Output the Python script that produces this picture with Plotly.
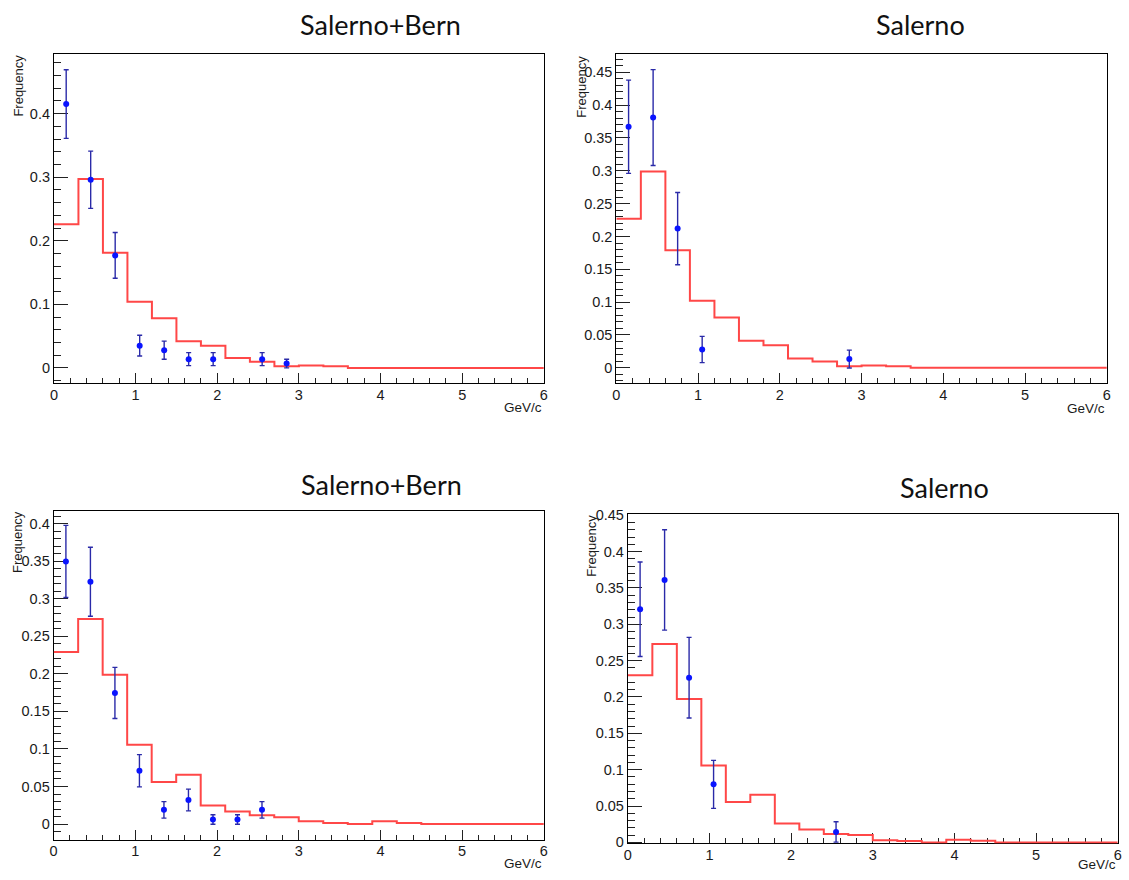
import plotly.graph_objects as go

# ---------------------------------------------------------------------------
# Momentum spectra: simulated histogram (red) against measured points (blue)
# ---------------------------------------------------------------------------
W, H = 1129, 880

# lower edges of the 0.3 GeV/c bins and the upper edge of the last bin
bin_low = [0.0, 0.3, 0.6, 0.9, 1.2, 1.5, 1.8, 2.1, 2.4, 2.7,
           3.0, 3.3, 3.6, 3.9, 4.2, 4.5, 4.8, 5.1, 5.4, 5.7]
bin_high_last = 6.0

# top-left: Salerno+Bern
sb1_hist = [0.226, 0.297, 0.181, 0.104, 0.078, 0.042, 0.035, 0.0155, 0.0095, 0.0027,
            0.0037, 0.0027, 0.0, 0.0, 0.0, 0.0, 0.0, 0.0, 0.0, 0.0]
sb1_x = [0.15, 0.45, 0.75, 1.05, 1.35, 1.65, 1.95, 2.55, 2.85]
sb1_y = [0.415, 0.296, 0.177, 0.035, 0.0278, 0.0138, 0.0138, 0.0138, 0.0068]
sb1_err = [0.054, 0.045, 0.036, 0.0163, 0.0143, 0.0102, 0.0102, 0.0102, 0.0068]

# top-right: Salerno
sa1_hist = [0.227, 0.299, 0.179, 0.102, 0.0766, 0.0413, 0.0343, 0.0144, 0.0095, 0.0025,
            0.0035, 0.0025, 0.0, 0.0, 0.0, 0.0, 0.0, 0.0, 0.0, 0.0]
sa1_x = [0.15, 0.45, 0.75, 1.05, 2.85]
sa1_y = [0.367, 0.381, 0.212, 0.0279, 0.0134]
sa1_err = [0.071, 0.073, 0.055, 0.020, 0.0136]

# bottom-left: Salerno+Bern
sb2_hist = [0.229, 0.273, 0.1987, 0.1057, 0.0561, 0.0658, 0.0246, 0.0167, 0.0118, 0.0092,
            0.0039, 0.0013, 0.0, 0.0039, 0.0013, 0.0, 0.0, 0.0, 0.0, 0.0]
sb2_x = [0.15, 0.45, 0.75, 1.05, 1.35, 1.65, 1.95, 2.25, 2.55]
sb2_y = [0.3497, 0.3226, 0.1746, 0.071, 0.0189, 0.032, 0.0061, 0.0061, 0.0189]
sb2_err = [0.048, 0.046, 0.034, 0.0215, 0.011, 0.0145, 0.0063, 0.0063, 0.011]

# bottom-right: Salerno
sa2_hist = [0.2299, 0.273, 0.1973, 0.1058, 0.0556, 0.0655, 0.026, 0.0179, 0.0117, 0.0103,
            0.0031, 0.0018, 0.0, 0.0036, 0.0022, 0.0, 0.0, 0.0, 0.0, 0.0]
sa2_x = [0.15, 0.45, 0.75, 1.05, 2.55]
sa2_y = [0.3206, 0.361, 0.2265, 0.0798, 0.0143]
sa2_err = [0.065, 0.069, 0.0555, 0.033, 0.014]

titles = ["Salerno+Bern", "Salerno", "Salerno+Bern", "Salerno"]
y_title = "Frequency"
x_title = "GeV/c"

# frame boxes in pixels: (left, right, top, bottom)
frames = [(50.3, 543.7, 48.0, 382.3),
          (616.7, 1110.7, 48.0, 382.5),
          (50.0, 543.7, 512.3, 846.0),
          (628.3, 1121.7, 515.7, 850.0)]
y_ranges = [(-0.0241, 0.4934), (-0.0237, 0.4774), (-0.0206, 0.4166), (-0.0015, 0.451)]
y_major = [0.1, 0.05, 0.05, 0.05]
y_minor = [0.02, 0.01, 0.01, 0.01]
title_pos = [(379.5, 18.0), (923.5, 18.0), (380.5, 485.0), (947.0, 488.5)]
xlabel_gap = [24.4, 25.5, 24.0, 21.7]
ylabel_mid = [(15.0, 80.0), (581.7, 81.5), (14.3, 543.5), (591.7, 548.0)]

panels = [
    (sb1_hist, sb1_x, sb1_y, sb1_err),
    (sa1_hist, sa1_x, sa1_y, sa1_err),
    (sb2_hist, sb2_x, sb2_y, sb2_err),
    (sa2_hist, sa2_x, sa2_y, sa2_err),
]

RED = "#ff4747"
BLUE = "#0a14ff"
ERR = "#2a2aa8"
SANS = "Liberation Sans, Arial, sans-serif"
TICK_FONT = dict(family=SANS, size=14.5, color="#1a1a1a")


def px_x(v):
    return v / W


def px_y(v):
    return 1 - v / H


fig = go.Figure()
layout = {}
annotations = []

for i, (hist, px, py, perr) in enumerate(panels):
    n = "" if i == 0 else str(i + 1)
    xa, ya = "x" + n, "y" + n
    left, right, top, bottom = frames[i]

    # step outline of the histogram
    fig.add_trace(go.Scatter(
        x=bin_low + [bin_high_last], y=hist + [hist[-1]],
        mode="lines", line=dict(color=RED, width=2, shape="hv"),
        xaxis=xa, yaxis=ya, showlegend=False, hoverinfo="skip"))

    # measured points with statistical errors
    fig.add_trace(go.Scatter(
        x=px, y=py, mode="markers",
        marker=dict(color=BLUE, size=6),
        error_y=dict(type="data", array=perr, visible=True,
                     color=ERR, thickness=1.4, width=2.5),
        xaxis=xa, yaxis=ya, showlegend=False, cliponaxis=False))

    layout["xaxis" + n] = dict(
        domain=[px_x(left), px_x(right)], anchor=ya, range=[0, 6],
        showline=True, linecolor="black", linewidth=1, mirror=True,
        showgrid=False, zeroline=False,
        ticks="inside", ticklen=10, tickwidth=1, tickcolor="#222",
        tick0=0, dtick=1, tickfont=TICK_FONT, ticklabelstandoff=-2,
        minor=dict(ticks="inside", ticklen=5, tickwidth=1, tickcolor="#222",
                   tick0=0, dtick=0.2, showgrid=False),
        layer="below traces")
    layout["yaxis" + n] = dict(
        domain=[px_y(bottom), px_y(top)], anchor=xa, range=list(y_ranges[i]),
        showline=True, linecolor="black", linewidth=1, mirror=True,
        showgrid=False, zeroline=False,
        ticks="inside", ticklen=14, tickwidth=1, tickcolor="#222",
        tick0=0, dtick=y_major[i], tickfont=TICK_FONT, ticklabelstandoff=0,
        minor=dict(ticks="inside", ticklen=7, tickwidth=1, tickcolor="#222",
                   tick0=0, dtick=y_minor[i], showgrid=False),
        layer="below traces")

    # panel title
    tx, ty = title_pos[i]
    annotations.append(dict(
        text=titles[i], x=px_x(tx), y=px_y(ty), xref="paper", yref="paper",
        xanchor="center", yanchor="middle", showarrow=False,
        font=dict(family="Lato, Open Sans, sans-serif", size=27, color="#111")))

    # rotated y label at the upper left of the frame
    lx, ly = ylabel_mid[i]
    annotations.append(dict(
        text=y_title, x=px_x(lx), y=px_y(ly), xref="paper", yref="paper",
        xanchor="center", yanchor="middle", textangle=-90, showarrow=False,
        font=dict(family=SANS, size=13, color="#1a1a1a")))

    # x label under the right end of the axis
    annotations.append(dict(
        text=x_title, x=px_x(right), y=px_y(bottom + xlabel_gap[i]),
        xref="paper", yref="paper", xanchor="right", yanchor="middle",
        showarrow=False,
        font=dict(family=SANS, size=13.5, color="#1a1a1a")))

fig.update_layout(
    width=W, height=H,
    margin=dict(l=0, r=0, t=0, b=0),
    paper_bgcolor="white", plot_bgcolor="white",
    annotations=annotations,
    **layout)

fig.write_html("out.html")
